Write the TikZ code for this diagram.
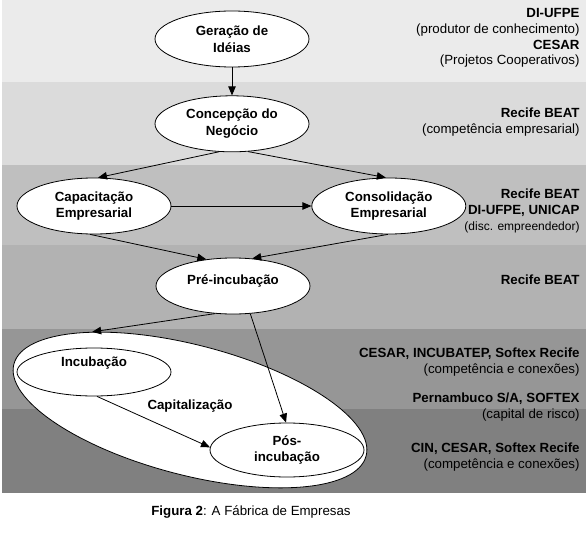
\documentclass[tikz,border=0pt]{standalone}
\usepackage{fontspec}
\setmainfont{Liberation Sans}
\usetikzlibrary{positioning}
\usetikzlibrary{shapes.geometric}
\usetikzlibrary{arrows.meta}
\tikzstyle{stage} = [draw, ellipse, fill=white, inner sep=0pt, minimum width=154pt, minimum height=56pt, align=center, font=\bfseries\fontsize{13.3}{16.5}\selectfont]
\tikzstyle{group} = [draw, ellipse, fill=white, inner sep=0pt, minimum width=364pt, minimum height=130pt, rotate=-14.6]
\tikzstyle{who} = [anchor=east, align=right, inner sep=0pt, font=\fontsize{13.3}{15.8}\selectfont]
\tikzstyle{lbl} = [inner sep=0pt, font=\bfseries\fontsize{13.3}{16}\selectfont]
\newcommand{\uptext}[2]{\raisebox{#1}[0pt][0pt]{#2}}

\begin{document}
\begin{tikzpicture}[x=1pt, y=-1pt, line width=0.8pt, >={Triangle[length=9pt, width=7.5pt]}]
  \useasboundingbox (0,0) rectangle (588,545);
  \foreach \top/\bot/\shade in {0/82/8, 82/165/14, 165/245/25, 245/329/30, 329/409/41, 409/493/50}
    \fill[black!\shade] (2,\top) rectangle (586,\bot);

  \node[group] (grp) at (190,410) {};

  \node[stage] (gen) at (232,39) {Geração de\\Idéias};
  \node[stage, below=28pt of gen] (con) {Concepção do\\Negócio};
  \node[stage] (cap) at (94,206) {Capacitação\\Empresarial};
  \node[stage, right=140pt of cap] (cons) {Consolidação\\Empresarial};
  \node[stage] (pre) at (233,286) {\uptext{2pt}{Pré-incubação}};
  \node[stage, minimum height=48pt] (inc) at (94,372) {\uptext{6pt}{Incubação}};
  \node[stage, minimum height=54pt] (pos) at (287,450) {Pós-\\incubação};

  \draw[->] (gen) -- (con);
  \draw[->] (con.245) -- (cap.82);
  \draw[->] (con.300) -- (cons.96);
  \draw[->] (cap) -- (cons);
  \draw[->] (cap.262) -- (pre.135);
  \draw[->] (cons.268) -- (pre.55);
  \draw[->] (pre.237) -- (grp.156);
  \draw[->] (pre.302) -- (pos.92);
  \draw[->] (inc.277) -- (pos.178);
  \node[lbl] (capit) at (190,406) {Capitalização};

  \node[who] (w1) at (580,38) {\textbf{DI-UFPE}\\(produtor de conhecimento)\\\textbf{CESAR}\\(Projetos Cooperativos)};
  \node[who] (w2) at (580,122) {\textbf{Recife BEAT}\\(competência empresarial)};
  \node[who] (w3) at (580,211) {\textbf{Recife BEAT}\\\textbf{DI-UFPE, UNICAP}\\{\fontsize{12}{15.8}\selectfont(disc. empreendedor)}};
  \node[who] (w4) at (580,280) {\textbf{Recife BEAT}};
  \node[who] (w5) at (580,362) {\textbf{CESAR, INCUBATEP, Softex Recife}\\(competência e conexões)};
  \node[who] (w6) at (580,407) {\textbf{Pernambuco S/A, SOFTEX}\\(capital de risco)};
  \node[who] (w7) at (580,457) {\textbf{CIN, CESAR, Softex Recife}\\(competência e conexões)};

  \node[inner sep=0pt, font=\fontsize{13.3}{16}\selectfont] (cap2) at (251,512) {\textbf{Figura 2}: A Fábrica de Empresas};
\end{tikzpicture}
\end{document}
